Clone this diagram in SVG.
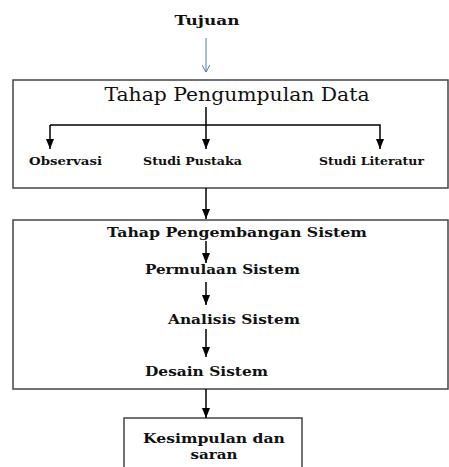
<svg xmlns="http://www.w3.org/2000/svg" width="449" height="467" viewBox="0 0 449 467">
<style>
.t{font-family:"DejaVu Serif","Liberation Serif",serif;fill:#111;}
.b{font-weight:bold;}
.box{fill:#fff;stroke:#444;stroke-width:1.5;}
.ln{stroke:#000;stroke-width:1.5;fill:none;}
</style>
<defs>
<marker id="ah" markerWidth="10" markerHeight="8" refX="10" refY="4" orient="auto" markerUnits="userSpaceOnUse">
<path d="M0,0 L10,4 L0,8 Z" fill="#000"/>
</marker>
<marker id="bh" markerWidth="8" markerHeight="8" refX="7" refY="4" orient="auto" markerUnits="userSpaceOnUse">
<path d="M0,0 L7,4 L0,8" fill="none" stroke="#4a7cc0" stroke-width="1"/>
</marker>
</defs>
<rect width="449" height="467" fill="#fff"/>
<g id="tujuan">
<text class="t b" x="207" y="25" font-size="13" text-anchor="middle" textLength="65" lengthAdjust="spacingAndGlyphs">Tujuan</text>
</g>
<g id="pengumpulan">
<rect class="box" x="13" y="80" width="435" height="108"/>
<text class="t" x="237" y="101" font-size="18" text-anchor="middle" textLength="265" lengthAdjust="spacingAndGlyphs">Tahap Pengumpulan Data</text>
<text class="t b" x="29" y="165" font-size="11" textLength="73" lengthAdjust="spacingAndGlyphs">Observasi</text>
<text class="t b" x="143" y="165" font-size="11" textLength="99" lengthAdjust="spacingAndGlyphs">Studi Pustaka</text>
<text class="t b" x="319" y="165" font-size="11" textLength="105" lengthAdjust="spacingAndGlyphs">Studi Literatur</text>
</g>
<g id="pengembangan">
<rect class="box" x="13" y="220" width="435" height="169"/>
<text class="t b" x="107" y="237" font-size="13" textLength="260" lengthAdjust="spacingAndGlyphs">Tahap Pengembangan Sistem</text>
<text class="t b" x="145" y="274" font-size="13" textLength="155" lengthAdjust="spacingAndGlyphs">Permulaan Sistem</text>
<text class="t b" x="168" y="324" font-size="13" textLength="132" lengthAdjust="spacingAndGlyphs">Analisis  Sistem</text>
<text class="t b" x="145" y="376" font-size="13" textLength="123" lengthAdjust="spacingAndGlyphs">Desain Sistem</text>
</g>
<g id="kesimpulan">
<rect class="box" x="124" y="418" width="178" height="60"/>
<text class="t b" x="214" y="443" font-size="13" text-anchor="middle" textLength="142" lengthAdjust="spacingAndGlyphs">Kesimpulan dan</text>
<text class="t b" x="214" y="459" font-size="13" text-anchor="middle" textLength="47" lengthAdjust="spacingAndGlyphs">saran</text>
</g>
<g id="connectors">
<line x1="206" y1="38" x2="206" y2="72" stroke="#4a7cc0" stroke-width="1" marker-end="url(#bh)"/>
<line class="ln" x1="206" y1="107" x2="206" y2="149" marker-end="url(#ah)"/>
<polyline class="ln" points="50,125 380,125 380,149" marker-end="url(#ah)"/>
<line class="ln" x1="50" y1="125" x2="50" y2="149" marker-end="url(#ah)"/>
<line class="ln" x1="206" y1="188" x2="206" y2="219" marker-end="url(#ah)"/>
<line class="ln" x1="206" y1="241" x2="206" y2="263" marker-end="url(#ah)"/>
<line class="ln" x1="206" y1="282" x2="206" y2="305" marker-end="url(#ah)"/>
<line class="ln" x1="206" y1="329" x2="206" y2="357" marker-end="url(#ah)"/>
<line class="ln" x1="206" y1="389" x2="206" y2="418" marker-end="url(#ah)"/>
</g>
</svg>
